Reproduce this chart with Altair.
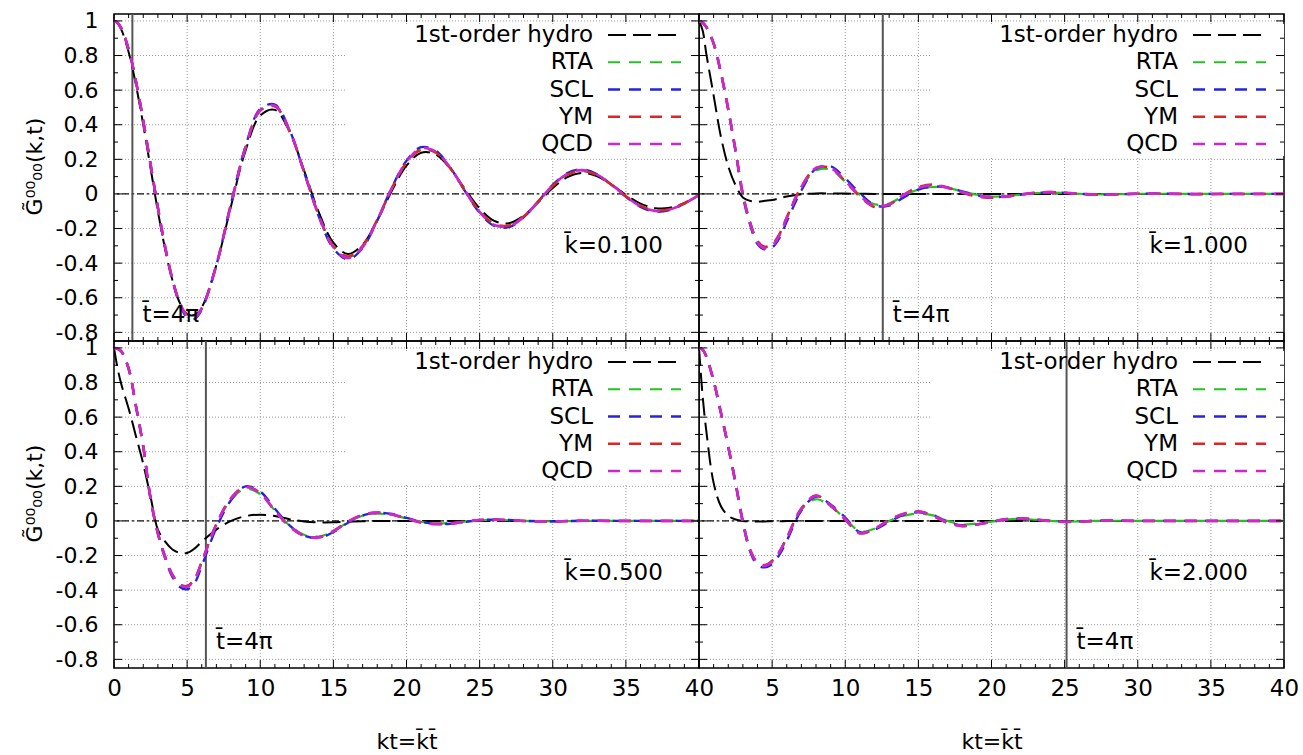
import math

import altair as alt
import pandas as pd

FONT = "DejaVu Sans"

# Sampling points in kt (finer near the origin where the curves fall steeply)
KT = [0, 0.25, 0.5, 1, 1.5, 2, 2.5, 3, 3.5, 4, 4.5, 5, 5.5, 6,
      7, 8, 9, 10, 11, 12, 13, 14, 15, 16, 17, 18, 19, 20, 21, 22, 23, 24,
      25, 26, 27, 28, 29, 30, 31, 32, 33, 34, 35, 36, 37, 38, 39, 40]

SERIES = ["1st-order hydro", "RTA", "SCL", "YM", "QCD"]
COLORS = ["#000000", "#22c422", "#2424dc", "#dc2626", "#cc28cc"]
DASHES = [[18, 7], [12, 9], [12, 9], [12, 9], [12, 9]]
WIDTHS = [2.0, 2.7, 2.7, 2.7, 2.7]

BAR = "\u0304"
K_BAR = [0.1, 1.0, 0.5, 2.0]
K_TEXT = ["k" + BAR + "=0.100", "k" + BAR + "=1.000", "k" + BAR + "=0.500", "k" + BAR + "=2.000"]
T_TEXT = "t" + BAR + "=4\u03c0"
X_TITLE = "kt=k" + BAR + "t" + BAR
Y_TITLE = "G\u0303\u2070\u2070\u2080\u2080(k,t)"

# ---- k̄ = 0.1 ----
HYDRO_A = [1.000, 0.985, 0.950, 0.820, 0.630, 0.400, 0.150, -0.100, -0.320, -0.500, -0.630, -0.695, -0.700, -0.655,
           -0.411, -0.071, 0.252, 0.453, 0.486, 0.360, 0.135, -0.105, -0.282, -0.347, -0.293, -0.153, 0.018, 0.163,
           0.238, 0.228, 0.146, 0.028, -0.084, -0.156, -0.169, -0.126, -0.049, 0.034, 0.097, 0.121, 0.103, 0.055,
           -0.005, -0.056, -0.082, -0.080, -0.052, -0.011]
RTA_A = [1.000, 0.989, 0.957, 0.836, 0.651, 0.422, 0.171, -0.079, -0.308, -0.494, -0.630, -0.704, -0.713, -0.660,
         -0.410, -0.058, 0.270, 0.481, 0.506, 0.365, 0.127, -0.124, -0.305, -0.366, -0.303, -0.150, 0.033, 0.183,
         0.259, 0.241, 0.148, 0.019, -0.102, -0.176, -0.184, -0.132, -0.045, 0.047, 0.113, 0.135, 0.111, 0.054,
         -0.014, -0.069, -0.096, -0.089, -0.055, -0.006]
SCL_A = [1.000, 0.989, 0.957, 0.836, 0.650, 0.420, 0.168, -0.083, -0.313, -0.501, -0.638, -0.713, -0.722, -0.668,
         -0.412, -0.055, 0.277, 0.492, 0.516, 0.370, 0.125, -0.130, -0.315, -0.378, -0.312, -0.153, 0.037, 0.192,
         0.270, 0.250, 0.151, 0.016, -0.109, -0.185, -0.192, -0.136, -0.044, 0.053, 0.121, 0.142, 0.115, 0.054,
         -0.017, -0.075, -0.102, -0.093, -0.056, -0.005]
YM_A = [1.000, 0.989, 0.957, 0.836, 0.651, 0.423, 0.172, -0.078, -0.307, -0.494, -0.630, -0.703, -0.713, -0.661,
        -0.410, -0.058, 0.270, 0.482, 0.506, 0.366, 0.127, -0.123, -0.302, -0.362, -0.300, -0.149, 0.032, 0.180,
        0.255, 0.238, 0.147, 0.020, -0.100, -0.173, -0.182, -0.131, -0.045, 0.046, 0.111, 0.133, 0.110, 0.054,
        -0.013, -0.068, -0.095, -0.088, -0.054, -0.007]
QCD_A = [1.000, 0.989, 0.957, 0.836, 0.651, 0.422, 0.171, -0.079, -0.308, -0.495, -0.631, -0.705, -0.715, -0.663,
         -0.412, -0.059, 0.271, 0.485, 0.510, 0.368, 0.128, -0.125, -0.308, -0.371, -0.307, -0.152, 0.034, 0.186,
         0.263, 0.245, 0.150, 0.019, -0.104, -0.179, -0.187, -0.134, -0.045, 0.049, 0.116, 0.138, 0.113, 0.055,
         -0.014, -0.071, -0.098, -0.090, -0.055, -0.006]

# ---- k̄ = 1.0 ----
HYDRO_B = [1.000, 0.945, 0.810, 0.570, 0.330, 0.160, 0.050, -0.020, -0.040, -0.045, -0.040, -0.035, -0.025, -0.015,
           -0.002, 0.003, 0.003, 0.002, 0.001, 0.000, 0.000, 0.000, 0.000, 0.000, 0.000, 0.000, 0.000, 0.000,
           0.000, 0.000, 0.000, 0.000, 0.000, 0.000, 0.000, 0.000, 0.000, 0.000, 0.000, 0.000, 0.000, 0.000,
           0.000, 0.000, 0.000, 0.000, 0.000, 0.000]
RTA_B = [1.000, 0.990, 0.965, 0.870, 0.700, 0.490, 0.250, -0.005, -0.168, -0.275, -0.310, -0.295, -0.235, -0.138,
         0.035, 0.135, 0.140, 0.070, -0.005, -0.060, -0.055, -0.010, 0.025, 0.040, 0.035, 0.015, -0.005, -0.015,
         -0.012, -0.004, 0.005, 0.008, 0.006, 0.001, -0.003, -0.003, -0.001, 0.001, 0.001, 0.001, 0.000, 0.000,
         0.000, 0.000, 0.000, 0.000, 0.000, 0.000]
SCL_B = [1.000, 0.990, 0.964, 0.868, 0.697, 0.486, 0.245, -0.012, -0.180, -0.290, -0.322, -0.310, -0.255, -0.160,
         0.020, 0.145, 0.160, 0.090, 0.005, -0.065, -0.068, -0.020, 0.025, 0.042, 0.038, 0.015, -0.008, -0.018,
         -0.015, -0.005, 0.005, 0.008, 0.006, 0.001, -0.003, -0.003, -0.001, 0.001, 0.001, 0.001, 0.000, -0.001,
         0.000, 0.000, 0.000, 0.000, 0.000, 0.000]
YM_B = [1.000, 0.990, 0.965, 0.870, 0.700, 0.490, 0.252, 0.000, -0.165, -0.272, -0.305, -0.290, -0.232, -0.135,
        0.042, 0.150, 0.150, 0.072, -0.015, -0.075, -0.062, -0.005, 0.040, 0.055, 0.037, 0.008, -0.015, -0.022,
        -0.016, -0.004, 0.007, 0.011, 0.007, 0.000, -0.005, -0.004, -0.001, 0.001, 0.002, 0.001, 0.000, -0.001,
        -0.001, 0.000, 0.000, 0.000, 0.000, 0.000]
QCD_B = [1.000, 0.990, 0.965, 0.870, 0.700, 0.490, 0.250, -0.005, -0.170, -0.280, -0.315, -0.300, -0.240, -0.140,
         0.040, 0.150, 0.150, 0.075, -0.010, -0.070, -0.060, -0.005, 0.035, 0.050, 0.035, 0.010, -0.010, -0.018,
         -0.014, -0.003, 0.007, 0.010, 0.007, 0.001, -0.004, -0.004, -0.001, 0.001, 0.002, 0.001, 0.000, -0.001,
         -0.001, 0.000, 0.000, 0.000, 0.000, 0.000]

# ---- k̄ = 0.5 ----
HYDRO_C = [1.000, 0.880, 0.790, 0.650, 0.490, 0.330, 0.140, -0.050, -0.120, -0.165, -0.185, -0.185, -0.160, -0.120,
           -0.050, 0.000, 0.028, 0.036, 0.028, 0.010, -0.003, -0.008, -0.008, -0.005, -0.002, 0.000, 0.000, 0.000,
           0.000, 0.000, 0.000, 0.000, 0.000, 0.000, 0.000, 0.000, 0.000, 0.000, 0.000, 0.000, 0.000, 0.000,
           0.000, 0.000, 0.000, 0.000, 0.000, 0.000]
RTA_C = [1.000, 0.995, 0.980, 0.880, 0.665, 0.430, 0.130, -0.070, -0.208, -0.312, -0.367, -0.375, -0.335, -0.236,
         -0.022, 0.122, 0.185, 0.155, 0.060, -0.026, -0.080, -0.090, -0.060, -0.008, 0.030, 0.042, 0.035, 0.015,
         -0.005, -0.014, -0.012, -0.004, 0.004, 0.006, 0.004, 0.000, -0.002, -0.002, -0.001, 0.001, 0.001, 0.000,
         0.000, 0.000, 0.000, 0.000, 0.000, 0.000]
SCL_C = [1.000, 0.995, 0.980, 0.880, 0.663, 0.427, 0.126, -0.075, -0.218, -0.325, -0.382, -0.395, -0.360, -0.260,
         -0.040, 0.120, 0.200, 0.170, 0.070, -0.025, -0.085, -0.098, -0.065, -0.010, 0.032, 0.048, 0.040, 0.018,
         -0.005, -0.017, -0.016, -0.006, 0.004, 0.008, 0.006, 0.001, -0.002, -0.003, -0.001, 0.001, 0.001, 0.000,
         0.000, 0.000, 0.000, 0.000, 0.000, 0.000]
YM_C = [1.000, 0.995, 0.980, 0.880, 0.665, 0.430, 0.132, -0.068, -0.207, -0.311, -0.366, -0.376, -0.336, -0.236,
        -0.018, 0.132, 0.198, 0.160, 0.058, -0.032, -0.087, -0.094, -0.058, -0.004, 0.036, 0.048, 0.037, 0.014,
        -0.009, -0.018, -0.014, -0.004, 0.005, 0.008, 0.005, 0.000, -0.003, -0.003, -0.001, 0.001, 0.001, 0.000,
        0.000, 0.000, 0.000, 0.000, 0.000, 0.000]
QCD_C = [1.000, 0.995, 0.980, 0.880, 0.665, 0.430, 0.130, -0.070, -0.210, -0.315, -0.370, -0.380, -0.340, -0.240,
         -0.020, 0.130, 0.195, 0.160, 0.060, -0.030, -0.085, -0.095, -0.060, -0.005, 0.035, 0.048, 0.038, 0.015,
         -0.008, -0.018, -0.015, -0.005, 0.005, 0.008, 0.005, 0.000, -0.003, -0.003, -0.001, 0.001, 0.001, 0.000,
         0.000, 0.000, 0.000, 0.000, 0.000, 0.000]

# ---- k̄ = 2.0 ----
HYDRO_D = [1.000, 0.720, 0.520, 0.220, 0.085, 0.030, 0.008, 0.000, -0.002, -0.003, -0.003, -0.002, -0.002, -0.001,
           0.000, 0.000, 0.000, 0.000, 0.000, 0.000, 0.000, 0.000, 0.000, 0.000, 0.000, 0.000, 0.000, 0.000,
           0.000, 0.000, 0.000, 0.000, 0.000, 0.000, 0.000, 0.000, 0.000, 0.000, 0.000, 0.000, 0.000, 0.000,
           0.000, 0.000, 0.000, 0.000, 0.000, 0.000]
RTA_D = [1.000, 0.990, 0.950, 0.810, 0.625, 0.430, 0.220, -0.005, -0.168, -0.242, -0.256, -0.232, -0.178, -0.100,
         0.065, 0.125, 0.085, 0.012, -0.060, -0.045, 0.000, 0.030, 0.042, 0.032, 0.000, -0.020, -0.015, -0.004,
         0.008, 0.012, 0.007, 0.000, -0.004, -0.003, 0.000, 0.001, 0.001, 0.000, 0.000, 0.000, 0.000, 0.000,
         0.000, 0.000, 0.000, 0.000, 0.000, 0.000]
SCL_D = [1.000, 0.990, 0.950, 0.808, 0.622, 0.426, 0.215, -0.012, -0.178, -0.255, -0.268, -0.250, -0.195, -0.115,
         0.060, 0.140, 0.095, 0.020, -0.065, -0.050, -0.005, 0.035, 0.050, 0.035, -0.005, -0.025, -0.020, -0.006,
         0.008, 0.013, 0.008, 0.001, -0.004, -0.004, 0.000, 0.002, 0.001, 0.000, 0.000, 0.000, 0.000, 0.000,
         0.000, 0.000, 0.000, 0.000, 0.000, 0.000]
YM_D = [1.000, 0.990, 0.950, 0.810, 0.625, 0.430, 0.222, -0.003, -0.166, -0.240, -0.255, -0.230, -0.176, -0.097,
        0.072, 0.147, 0.088, 0.006, -0.072, -0.046, 0.006, 0.042, 0.056, 0.030, -0.012, -0.030, -0.021, -0.005,
        0.010, 0.015, 0.008, 0.000, -0.005, -0.004, 0.000, 0.002, 0.001, 0.000, 0.000, 0.000, 0.000, 0.000,
        0.000, 0.000, 0.000, 0.000, 0.000, 0.000]
QCD_D = [1.000, 0.990, 0.950, 0.810, 0.625, 0.430, 0.220, -0.005, -0.170, -0.245, -0.260, -0.235, -0.180, -0.100,
         0.070, 0.145, 0.090, 0.010, -0.070, -0.045, 0.005, 0.040, 0.054, 0.030, -0.010, -0.028, -0.020, -0.005,
         0.010, 0.015, 0.008, 0.000, -0.005, -0.004, 0.000, 0.002, 0.001, 0.000, 0.000, 0.000, 0.000, 0.000,
         0.000, 0.000, 0.000, 0.000, 0.000, 0.000]

PANEL_SERIES = [
    [HYDRO_A, RTA_A, SCL_A, YM_A, QCD_A],
    [HYDRO_B, RTA_B, SCL_B, YM_B, QCD_B],
    [HYDRO_C, RTA_C, SCL_C, YM_C, QCD_C],
    [HYDRO_D, RTA_D, SCL_D, YM_D, QCD_D],
]

X_MAJOR = [0, 5, 10, 15, 20, 25, 30, 35, 40]
X_MINOR = [v for v in range(41) if v % 5]
Y_MAJOR = [-0.8, -0.6, -0.4, -0.2, 0, 0.2, 0.4, 0.6, 0.8, 1]
Y_MINOR = [-0.7, -0.5, -0.3, -0.1, 0.1, 0.3, 0.5, 0.7, 0.9]

# layout constants (pixels / data-space anchors for annotations)
W, H = 585, 327
K_LABEL_X, K_LABEL_Y = 30.8, -0.30
T_LABEL_Y = -0.70

X_SCALE = alt.Scale(domain=[0, 40], nice=False, zero=False)
Y_SCALE = alt.Scale(domain=[-0.85, 1.04], nice=False, zero=False)
COLOR_SCALE = alt.Scale(domain=SERIES, range=COLORS)
DASH_SCALE = alt.Scale(domain=SERIES, range=DASHES)
WIDTH_SCALE = alt.Scale(domain=SERIES, range=WIDTHS)

GRID_STYLE = dict(color="#9a9a9a", strokeWidth=1, strokeDash=[1, 2])
MINUS_FIX = "replace(datum.label, '\u2212', '-')"


def x_axis(show_labels, values):
    if show_labels:
        return alt.Axis(values=values, grid=False, ticks=False, tickSize=0, domain=False,
                        labelFlush=False, labelPadding=9, labelExpr=MINUS_FIX,
                        title=X_TITLE, titlePadding=31)
    return alt.Axis(values=X_MAJOR, grid=False, labels=False, ticks=False, tickSize=0,
                    domain=False, title=None)


def y_axis(show_labels):
    if show_labels:
        return alt.Axis(values=Y_MAJOR, grid=False, ticks=False, tickSize=0, domain=False,
                        labelFlush=False, labelPadding=16, format=".1~f", labelExpr=MINUS_FIX,
                        labelFontSize=22, title=Y_TITLE, titlePadding=9, titleY=152)
    return alt.Axis(values=Y_MAJOR, grid=False, labels=False, ticks=False, tickSize=0,
                    domain=False, title=None)


def panel(idx, show_x, show_y, x_values):
    kbar = K_BAR[idx]
    x_ax = x_axis(show_x, x_values)
    y_ax = y_axis(show_y)

    def xq(field):
        return alt.X(field, type="quantitative", scale=X_SCALE, axis=x_ax)

    def yq(field):
        return alt.Y(field, type="quantitative", scale=Y_SCALE, axis=y_ax)

    def tick_rules(values, channel, side, length):
        base = alt.Chart(pd.DataFrame({"kt": values, "g": values})).mark_rule(
            color="black", strokeWidth=1)
        if channel == "x":
            y0, y1 = (H, H - length) if side == "bottom" else (0, length)
            return base.encode(x=xq("kt"), y=alt.value(y0), y2=alt.value(y1))
        x0, x1 = (0, length) if side == "left" else (W, W - length)
        return base.encode(y=yq("g"), x=alt.value(x0), x2=alt.value(x1))

    rows = []
    for name, vals in zip(SERIES, PANEL_SERIES[idx]):
        for t, g in zip(KT, vals):
            rows.append({"kt": t, "g": g, "series": name})
    df = pd.DataFrame(rows)

    # dotted grid at the major tick positions
    grid_x = alt.Chart(pd.DataFrame({"kt": X_MAJOR[1:-1]})).mark_rule(**GRID_STYLE).encode(x=xq("kt"))
    grid_y = alt.Chart(pd.DataFrame({"g": Y_MAJOR})).mark_rule(**GRID_STYLE).encode(y=yq("g"))

    # opaque key area that hides the grid behind the legend
    key_box = alt.Chart(pd.DataFrame({"a": [0]})).mark_rect(
        fill="white", opacity=1, strokeWidth=0).encode(
        x=alt.value(232), x2=alt.value(W), y=alt.value(10), y2=alt.value(142))

    zero = alt.Chart(pd.DataFrame({"g": [0.0]})).mark_rule(
        color="#111111", strokeWidth=1.2, strokeDash=[7, 3, 2, 3]).encode(y=yq("g"))

    t_mark = pd.DataFrame({"kt": [kbar * 4 * math.pi], "g": [T_LABEL_Y], "label": [T_TEXT]})
    t_line = alt.Chart(t_mark).mark_rule(color="#555555", strokeWidth=2).encode(x=xq("kt"))
    t_label = alt.Chart(t_mark).mark_text(
        align="left", baseline="middle", dx=10, fontSize=23, font=FONT, color="black").encode(
        x=xq("kt"), y=yq("g"), text="label:N")

    k_label = alt.Chart(pd.DataFrame({"kt": [K_LABEL_X], "g": [K_LABEL_Y], "label": [K_TEXT[idx]]})).mark_text(
        align="left", baseline="middle", fontSize=23, font=FONT, color="black").encode(
        x=xq("kt"), y=yq("g"), text="label:N")

    lines = alt.Chart(df).mark_line(interpolate="catmull-rom", clip=True).encode(
        x=xq("kt"), y=yq("g"),
        color=alt.Color("series:N", scale=COLOR_SCALE, legend=None),
        strokeDash=alt.StrokeDash("series:N", scale=DASH_SCALE, legend=None),
        strokeWidth=alt.StrokeWidth("series:N", scale=WIDTH_SCALE, legend=None),
    )

    ticks = [
        tick_rules(X_MAJOR, "x", "bottom", 8), tick_rules(X_MINOR, "x", "bottom", 4),
        tick_rules(X_MAJOR, "x", "top", 8), tick_rules(X_MINOR, "x", "top", 4),
        tick_rules(Y_MAJOR, "y", "left", 8), tick_rules(Y_MINOR, "y", "left", 4),
        tick_rules(Y_MAJOR, "y", "right", 8), tick_rules(Y_MINOR, "y", "right", 4),
    ]

    plot = alt.layer(grid_x, grid_y, key_box, zero, t_line, lines, *ticks, t_label, k_label)

    # key: right-aligned names with a dashed sample to their right
    key_df = pd.DataFrame({"series": SERIES})
    key_y = alt.Y("series:N", scale=alt.Scale(type="point", domain=SERIES, range=[21, 130], padding=0),
                  axis=None)
    key_text = alt.Chart(key_df).mark_text(
        align="right", baseline="middle", fontSize=23, font=FONT, color="black").encode(
        y=key_y, x=alt.value(479), text="series:N")
    key_line = alt.Chart(key_df).mark_rule().encode(
        y=key_y, x=alt.value(494), x2=alt.value(567),
        color=alt.Color("series:N", scale=COLOR_SCALE, legend=None),
        strokeDash=alt.StrokeDash("series:N", scale=DASH_SCALE, legend=None),
        strokeWidth=alt.StrokeWidth("series:N", scale=WIDTH_SCALE, legend=None),
    )
    key = alt.layer(key_text, key_line)

    return alt.layer(plot, key).resolve_scale(y="independent").properties(width=W, height=H)


chart = alt.concat(
    panel(0, False, True, X_MAJOR),
    panel(1, False, False, X_MAJOR),
    panel(2, True, True, X_MAJOR),
    panel(3, True, False, X_MAJOR[1:]),
    columns=2, spacing=0, bounds="flush",
).properties(
    padding={"left": 22, "top": 9, "right": 0, "bottom": 0},
).configure_view(
    stroke="black", strokeWidth=1.5,
).configure_axis(
    labelFont=FONT, titleFont=FONT, labelFontSize=23, titleFontSize=22,
    labelColor="black", titleColor="black", titleFontWeight="normal",
)

chart.save("out.html", embed_options={"renderer": "svg", "actions": False})
